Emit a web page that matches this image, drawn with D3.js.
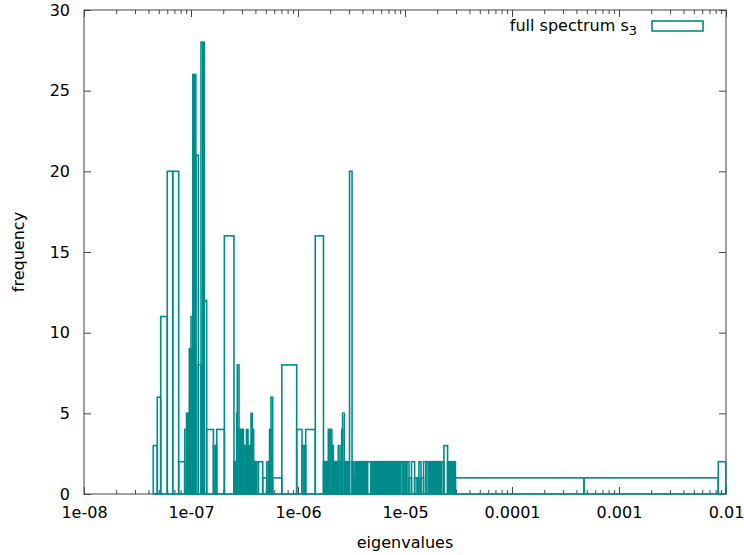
<!DOCTYPE html>
<html>
<head>
<meta charset="utf-8">
<script src="https://cdn.jsdelivr.net/npm/d3@7"></script>
<style>
  body { margin: 0; background: #fff; }
</style>
</head>
<body>
<div id="chart"></div>
<script>

//--------------------------------------
// DATA
//--------------------------------------

// bin edges of the eigenvalue histogram (left edges + final right edge)
var binEdges = [
  4.44e-8, 4.84e-8, 5.21e-8, 6.00e-8, 6.75e-8, 7.67e-8, 8.73e-8, 9.08e-8, 9.38e-8, 9.64e-8,
  9.83e-8, 1.00e-7, 1.04e-7, 1.07e-7, 1.11e-7, 1.17e-7, 1.24e-7, 1.29e-7, 1.33e-7, 1.40e-7,
  1.62e-7, 1.68e-7, 1.74e-7, 2.05e-7, 2.52e-7, 2.59e-7, 2.67e-7, 2.71e-7, 2.81e-7, 2.90e-7,
  3.00e-7, 3.09e-7, 3.20e-7, 3.30e-7, 3.41e-7, 3.52e-7, 3.64e-7, 3.74e-7, 3.85e-7, 3.96e-7,
  4.08e-7, 4.26e-7, 4.68e-7, 5.10e-7, 5.28e-7, 5.42e-7, 5.59e-7, 5.80e-7, 7.06e-7, 9.72e-7,
  1.09e-6, 1.14e-6, 1.18e-6, 1.45e-6, 1.73e-6, 1.78e-6, 1.82e-6, 1.87e-6, 1.92e-6, 1.99e-6,
  2.07e-6, 2.14e-6, 2.19e-6, 2.26e-6, 2.32e-6, 2.38e-6, 2.47e-6, 2.56e-6, 2.61e-6, 2.71e-6,
  2.79e-6, 2.86e-6, 2.95e-6, 3.03e-6, 3.20e-6, 3.30e-6, 3.41e-6, 3.52e-6, 3.60e-6, 3.70e-6,
  3.80e-6, 3.90e-6, 4.01e-6, 4.12e-6, 4.23e-6, 4.35e-6, 4.46e-6, 4.81e-6, 4.96e-6, 5.11e-6,
  5.26e-6, 5.42e-6, 5.53e-6, 5.69e-6, 5.85e-6, 6.02e-6, 6.19e-6, 6.36e-6, 6.53e-6, 6.72e-6,
  6.91e-6, 7.10e-6, 7.31e-6, 7.51e-6, 7.73e-6, 7.94e-6, 8.17e-6, 8.38e-6, 8.62e-6, 8.87e-6,
  9.12e-6, 9.58e-6, 1.00e-5, 1.04e-5, 1.09e-5, 1.15e-5, 1.23e-5, 1.30e-5, 1.35e-5, 1.41e-5,
  1.49e-5, 1.57e-5, 1.65e-5, 1.69e-5, 1.74e-5, 1.79e-5, 1.83e-5, 1.88e-5, 1.93e-5, 1.98e-5,
  2.04e-5, 2.09e-5, 2.15e-5, 2.20e-5, 2.31e-5, 2.50e-5, 2.57e-5, 2.65e-5, 2.72e-5, 2.80e-5,
  2.88e-5, 2.96e-5, 4.71e-4, 8.47e-3, 9.94e-3
];

// frequency in each bin
var binCounts = [
  3, 6, 11, 20, 20, 2, 4, 5, 5, 9,
  9, 11, 26, 26, 21, 8, 28, 28, 12, 4,
  3, 3, 4, 16, 2, 2, 5, 8, 4, 4,
  4, 3, 3, 4, 3, 3, 5, 4, 2, 2,
  2, 2, 1, 2, 2, 4, 6, 1, 8, 4,
  3, 3, 4, 16, 2, 2, 2, 2, 4, 4,
  3, 2, 2, 2, 2, 3, 2, 4, 5, 2,
  2, 2, 2, 20, 2, 1, 2, 1, 2, 2,
  2, 2, 2, 2, 2, 2, 2, 2, 2, 2,
  2, 1, 2, 2, 2, 2, 2, 2, 2, 2,
  2, 2, 2, 2, 2, 2, 2, 2, 2, 2,
  2, 2, 2, 2, 1, 2, 1, 1, 2, 1,
  2, 2, 2, 2, 2, 2, 2, 2, 2, 2,
  2, 2, 2, 2, 3, 2, 2, 2, 2, 2,
  2, 1, 1, 2
];

var xTickValues = [1e-8, 1e-7, 1e-6, 1e-5, 1e-4, 1e-3, 1e-2];
var xTickLabels = ["1e-08", "1e-07", "1e-06", "1e-05", "0.0001", "0.001", "0.01"];
var yTickValues = [0, 5, 10, 15, 20, 25, 30];

var seriesName = "full spectrum s";
var seriesSub = "3";


//--------------------------------------
// SETUP
//--------------------------------------

var W = 744, H = 555;
var margin = { top: 10, right: 18, bottom: 61, left: 84 };
var fontFamily = "'DejaVu Sans', sans-serif";
var boxColor = "#008b8b";
var borderColor = "#444";

var svg = d3.select("#chart").append("svg")
  .attr("width", W)
  .attr("height", H);

var x = d3.scaleLog()
  .domain([1e-8, 1e-2])
  .range([margin.left, W - margin.right]);

var y = d3.scaleLinear()
  .domain([0, 30])
  .range([H - margin.bottom, margin.top]);

var bins = binCounts.map(function (c, i) {
  return { x0: binEdges[i], x1: binEdges[i + 1], count: c };
});

// minor log ticks (2..9 in each decade)
var minorTicks = x.ticks().filter(function (t) {
  return xTickValues.indexOf(t) < 0;
});


//--------------------------------------
// AXES (ticks mirrored, pointing inward)
//--------------------------------------

function styleAxis(g) {
  g.select(".domain").remove();
  g.selectAll(".tick line").attr("stroke", borderColor);
  g.selectAll(".tick text")
    .attr("fill", "#000")
    .attr("font-family", fontFamily)
    .attr("font-size", 16);
}

var bottomY = y(0), topY = y(30);

svg.append("g")
  .attr("transform", "translate(0," + bottomY + ")")
  .call(d3.axisBottom(x).tickValues(xTickValues)
    .tickFormat(function (d, i) { return xTickLabels[i]; })
    .tickSizeInner(-7).tickSizeOuter(0).tickPadding(13))
  .call(styleAxis);

svg.append("g")
  .attr("transform", "translate(0," + bottomY + ")")
  .call(d3.axisBottom(x).tickValues(minorTicks).tickFormat("")
    .tickSizeInner(-4).tickSizeOuter(0))
  .call(styleAxis);

svg.append("g")
  .attr("transform", "translate(0," + topY + ")")
  .call(d3.axisTop(x).tickValues(xTickValues).tickFormat("")
    .tickSizeInner(-7).tickSizeOuter(0))
  .call(styleAxis);

svg.append("g")
  .attr("transform", "translate(0," + topY + ")")
  .call(d3.axisTop(x).tickValues(minorTicks).tickFormat("")
    .tickSizeInner(-4).tickSizeOuter(0))
  .call(styleAxis);

svg.append("g")
  .attr("transform", "translate(" + margin.left + ",0)")
  .call(d3.axisLeft(y).tickValues(yTickValues)
    .tickSizeInner(-7).tickSizeOuter(0).tickPadding(14))
  .call(styleAxis);

svg.append("g")
  .attr("transform", "translate(" + (W - margin.right) + ",0)")
  .call(d3.axisRight(y).tickValues(yTickValues).tickFormat("")
    .tickSizeInner(-7).tickSizeOuter(0))
  .call(styleAxis);

// border
svg.append("rect")
  .attr("x", margin.left)
  .attr("y", margin.top)
  .attr("width", W - margin.left - margin.right)
  .attr("height", H - margin.top - margin.bottom)
  .attr("fill", "none")
  .attr("stroke", borderColor)
  .attr("stroke-width", 1);


//--------------------------------------
// BOXES (empty boxes, like gnuplot "with boxes")
//--------------------------------------

svg.append("g")
  .selectAll("rect")
  .data(bins)
  .enter().append("rect")
  .attr("x", function (d) { return x(d.x0); })
  .attr("y", function (d) { return y(d.count); })
  .attr("width", function (d) { return x(d.x1) - x(d.x0); })
  .attr("height", function (d) { return y(0) - y(d.count); })
  .attr("fill", "none")
  .attr("stroke", boxColor)
  .attr("stroke-width", 1.6);


//--------------------------------------
// LABELS + KEY
//--------------------------------------

svg.append("text")
  .attr("x", (margin.left + W - margin.right) / 2)
  .attr("y", 548)
  .attr("text-anchor", "middle")
  .attr("font-family", fontFamily)
  .attr("font-size", 16)
  .text("eigenvalues");

svg.append("text")
  .attr("transform", "translate(24," + ((margin.top + H - margin.bottom) / 2) + ") rotate(-90)")
  .attr("text-anchor", "middle")
  .attr("font-family", fontFamily)
  .attr("font-size", 16)
  .text("frequency");

var key = svg.append("text")
  .attr("x", 637)
  .attr("y", 31)
  .attr("text-anchor", "end")
  .attr("font-family", fontFamily)
  .attr("font-size", 16);

key.append("tspan").text(seriesName);
key.append("tspan").attr("font-size", 13).attr("dy", 4).text(seriesSub);

svg.append("rect")
  .attr("x", 652)
  .attr("y", 21)
  .attr("width", 51)
  .attr("height", 10)
  .attr("fill", "none")
  .attr("stroke", boxColor)
  .attr("stroke-width", 1.6);

</script>
</body>
</html>
